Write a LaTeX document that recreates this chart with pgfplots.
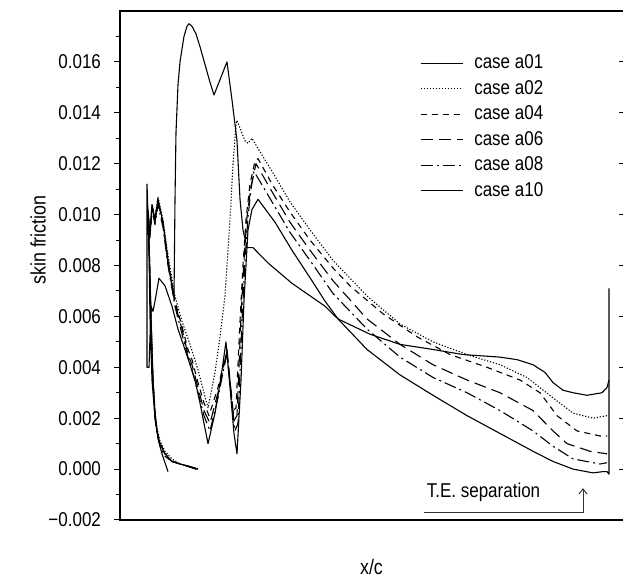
\documentclass[border=0pt]{standalone}
\usepackage{fontspec}
\setmainfont{Liberation Sans}[FakeStretch=0.85]
\usepackage{pgfplots}
\pgfplotsset{compat=1.18}
\usetikzlibrary{calc,arrows.meta}

\pgfplotstableread{
x y
0.1551 0.0000
0.1392 0.0001
0.1193 0.0002
0.1034 0.0003
0.0895 0.0006
0.0795 0.0010
0.0736 0.0015
0.0696 0.0022
0.0656 0.0035
0.0616 0.0060
0.0577 0.0090
0.0557 0.0102
0.0596 0.0092
0.0636 0.0104
0.0696 0.0098
0.0755 0.0106
0.0855 0.0097
0.0954 0.0082
0.1034 0.0072
0.1074 0.0068
0.1093 0.0105
0.1113 0.0132
0.1153 0.0151
0.1193 0.0160
0.1272 0.0170
0.1332 0.0174
0.1372 0.0175
0.1431 0.0174
0.1511 0.0171
0.1590 0.0166
0.1690 0.0159
0.1789 0.0152
0.1869 0.0147
0.2127 0.0160
0.2227 0.0145
0.2326 0.0129
0.2386 0.0106
0.2445 0.0094
0.2525 0.0087
0.2644 0.0087
0.2942 0.0081
0.3419 0.0073
0.4076 0.0064
0.4334 0.0059
0.4970 0.0053
0.5567 0.0049
0.6223 0.0047
0.6819 0.0045
0.7555 0.0044
0.7893 0.0043
0.8211 0.0041
0.8449 0.0038
0.8608 0.0034
0.8807 0.0031
0.9006 0.0030
0.9284 0.0029
0.9583 0.0030
0.9682 0.0032
0.9722 0.0035
}\caseA

\pgfplotstableread{
x y
0.1511 0.0000
0.1352 0.0001
0.1193 0.0002
0.1034 0.0004
0.0895 0.0007
0.0795 0.0011
0.0736 0.0016
0.0696 0.0023
0.0656 0.0036
0.0616 0.0062
0.0577 0.0090
0.0557 0.0100
0.0596 0.0094
0.0636 0.0103
0.0696 0.0099
0.0755 0.0107
0.0855 0.0098
0.0954 0.0084
0.1093 0.0068
0.1233 0.0058
0.1392 0.0049
0.1551 0.0039
0.1670 0.0030
0.1750 0.0024
0.1889 0.0038
0.1988 0.0052
0.2087 0.0068
0.2187 0.0098
0.2247 0.0120
0.2306 0.0135
0.2326 0.0137
0.2406 0.0133
0.2485 0.0129
0.2545 0.0128
0.2624 0.0130
0.2744 0.0126
0.3022 0.0117
0.3380 0.0105
0.3777 0.0094
0.4235 0.0082
0.4911 0.0068
0.5567 0.0057
0.6223 0.0050
0.6899 0.0045
0.7555 0.0041
0.8091 0.0036
0.8608 0.0028
0.9006 0.0022
0.9404 0.0020
0.9682 0.0021
}\caseB

\pgfplotstableread{
x y
0.1551 0.0000
0.1392 0.0001
0.1193 0.0002
0.1034 0.0003
0.0895 0.0006
0.0795 0.0010
0.0736 0.0015
0.0696 0.0022
0.0656 0.0035
0.0616 0.0060
0.0577 0.0090
0.0557 0.0101
0.0596 0.0093
0.0636 0.0104
0.0696 0.0098
0.0755 0.0106
0.0855 0.0097
0.0954 0.0082
0.1093 0.0066
0.1233 0.0056
0.1352 0.0047
0.1431 0.0043
0.1551 0.0034
0.1670 0.0026
0.1769 0.0021
0.1948 0.0032
0.2068 0.0042
0.2127 0.0046
0.2247 0.0023
0.2306 0.0024
0.2386 0.0058
0.2445 0.0080
0.2505 0.0098
0.2584 0.0112
0.2684 0.0121
0.2744 0.0122
0.3022 0.0112
0.3380 0.0101
0.3777 0.0090
0.4235 0.0079
0.4573 0.0072
0.5229 0.0061
0.5905 0.0052
0.6561 0.0045
0.7296 0.0040
0.7952 0.0035
0.8350 0.0030
0.8688 0.0021
0.9085 0.0015
0.9543 0.0013
0.9682 0.0013
}\caseC

\pgfplotstableread{
x y
0.1531 0.0000
0.1392 0.0001
0.1193 0.0002
0.1034 0.0003
0.0895 0.0006
0.0795 0.0010
0.0736 0.0015
0.0696 0.0021
0.0656 0.0034
0.0616 0.0058
0.0577 0.0088
0.0557 0.0100
0.0596 0.0092
0.0636 0.0103
0.0696 0.0097
0.0755 0.0105
0.0855 0.0096
0.0954 0.0081
0.1093 0.0065
0.1233 0.0055
0.1352 0.0045
0.1431 0.0041
0.1551 0.0032
0.1670 0.0023
0.1789 0.0018
0.1948 0.0030
0.2068 0.0041
0.2127 0.0047
0.2266 0.0019
0.2326 0.0021
0.2406 0.0060
0.2465 0.0082
0.2525 0.0099
0.2604 0.0111
0.2704 0.0120
0.3022 0.0109
0.3380 0.0097
0.3777 0.0086
0.4235 0.0074
0.4911 0.0059
0.5567 0.0049
0.6223 0.0041
0.6899 0.0035
0.7555 0.0030
0.8211 0.0023
0.8608 0.0015
0.8887 0.0010
0.9344 0.0007
0.9682 0.0006
}\caseD

\pgfplotstableread{
x y
0.1511 0.0000
0.1352 0.0001
0.1193 0.0002
0.1034 0.0003
0.0895 0.0005
0.0795 0.0009
0.0736 0.0014
0.0696 0.0020
0.0656 0.0033
0.0616 0.0057
0.0577 0.0087
0.0557 0.0099
0.0596 0.0091
0.0636 0.0102
0.0696 0.0096
0.0755 0.0104
0.0855 0.0095
0.0954 0.0080
0.1093 0.0064
0.1233 0.0053
0.1352 0.0044
0.1431 0.0039
0.1551 0.0030
0.1670 0.0021
0.1789 0.0015
0.1948 0.0028
0.2068 0.0040
0.2127 0.0045
0.2286 0.0015
0.2346 0.0018
0.2425 0.0058
0.2485 0.0082
0.2545 0.0099
0.2604 0.0110
0.2664 0.0117
0.3022 0.0105
0.3380 0.0093
0.3777 0.0082
0.4235 0.0069
0.4911 0.0055
0.5567 0.0044
0.6223 0.0036
0.6899 0.0030
0.7555 0.0023
0.8211 0.0015
0.8608 0.0009
0.9006 0.0004
0.9543 0.0002
0.9682 0.00025
}\caseE

\pgfplotstableread{
x y
0.0954 -0.0001
0.0835 0.0006
0.0755 0.0012
0.0696 0.0020
0.0636 0.0035
0.0596 0.0060
0.0577 0.0085
0.0557 0.0100
0.0537 0.0112
0.0537 0.0040
0.0577 0.0040
0.0616 0.0064
0.0656 0.0062
0.0696 0.0066
0.0775 0.0075
0.0895 0.0072
0.1034 0.0064
0.1153 0.0055
0.1292 0.0047
0.1392 0.0041
0.1491 0.0035
0.1590 0.0026
0.1690 0.0016
0.1750 0.0010
0.1889 0.0022
0.2008 0.0036
0.2107 0.0050
0.2187 0.0032
0.2266 0.0014
0.2326 0.0006
0.2406 0.0035
0.2465 0.0066
0.2545 0.0094
0.2624 0.0102
0.2744 0.0106
0.3082 0.0097
0.3419 0.0086
0.3817 0.0074
0.4076 0.0066
0.4334 0.0059
0.4911 0.0047
0.5567 0.0037
0.6223 0.0029
0.6899 0.0021
0.7555 0.0014
0.8211 0.0007
0.8608 0.0003
0.9006 0.0000
0.9404 -0.00015
0.9602 -0.0001
0.9682 -0.0001
0.9722 -0.0002
0.9722 0.0071
}\caseF

\begin{document}
\begin{tikzpicture}
\begin{axis}[
  scale only axis,
  width=251.5pt, height=254.5pt,
  xmin=0, xmax=1, ymin=-0.002, ymax=0.018,
  axis line style={draw=none},
  xtick=\empty,
  ytick pos=left,
  scaled y ticks=false,
  ytick={-0.002,0,0.002,0.004,0.006,0.008,0.010,0.012,0.014,0.016},
  yticklabels={{−0.002},{0.000},{0.002},{0.004},{0.006},{0.008},{0.010},{0.012},{0.014},{0.016}},
  minor ytick={-0.001,0.001,0.003,0.005,0.007,0.009,0.011,0.013,0.015,0.017},
  tick align=outside,
  major tick length=3pt, minor tick length=2pt,
  every tick/.style={line width=0.5pt, black},
  yticklabel style={font=\fontsize{10}{12}\selectfont, xshift=-3pt},
  ylabel={skin friction},
  ylabel style={at={(axis description cs:-0.163,0.55)}, anchor=center, font=\fontsize{10.5}{12}\selectfont},
  xlabel={x/c},
  xlabel style={at={(axis description cs:0.5,-0.092)}, anchor=center, font=\fontsize{10.5}{12}\selectfont},
  clip=false,
  legend image code/.code={\draw[#1] (0pt,0pt) -- (21pt,0pt);},
  legend cell align=left,
  legend style={at={(axis description cs:0.596,0.917)}, anchor=north west, draw=none, fill=none,
    inner sep=0pt, row sep=3.25pt, column sep=5.5pt,
    font=\fontsize{10}{12}\selectfont,
    nodes={inner sep=0pt, text height=7.5pt, text depth=2pt}},
  every axis plot/.append style={black, line width=0.55pt, line join=round},
]
\addplot[solid] table[x=x,y=y] {\caseA};
\addlegendentry{case a01}
\addplot[dash pattern=on 0.6pt off 0.9pt] table[x=x,y=y] {\caseB};
\addlegendentry{case a02}
\addplot[dash pattern=on 3pt off 2.5pt] table[x=x,y=y] {\caseC};
\addlegendentry{case a04}
\addplot[dash pattern=on 6pt off 3pt] table[x=x,y=y] {\caseD};
\addlegendentry{case a06}
\addplot[dash pattern=on 6pt off 2pt on 1pt off 2pt] table[x=x,y=y] {\caseE};
\addlegendentry{case a08}
\addplot[solid] table[x=x,y=y] {\caseF};
\addlegendentry{case a10}

\node[anchor=center, font=\fontsize{10}{12}\selectfont] at (axis cs:0.7227,-0.0009) {T.E. separation};
\draw[line width=0.5pt, black!80, -{Straight Barb[length=2.5pt,width=4pt]}]
  (axis cs:0.6044,-0.00169) -- (axis cs:0.9205,-0.00169) -- (axis cs:0.9205,-0.00075);

\coordinate (SW) at (rel axis cs:0,0);
\coordinate (NE) at (rel axis cs:1,1);
\end{axis}
\draw[line width=0.6pt] ($(NE)+(0.3pt,0)$) -| (SW) -- ($(SW -| NE)+(0.3pt,0)$);
\foreach \k in {1,...,9} {
  \draw[line width=0.5pt] ($(SW -| NE)!{\k/10}!(NE)$) -- ++(-2pt,0pt);
}
\pgfresetboundingbox
\path ($(SW)+(-60pt,-31pt)$) rectangle ($(NE)+(0pt,5.5pt)$);
\end{tikzpicture}
\end{document}
